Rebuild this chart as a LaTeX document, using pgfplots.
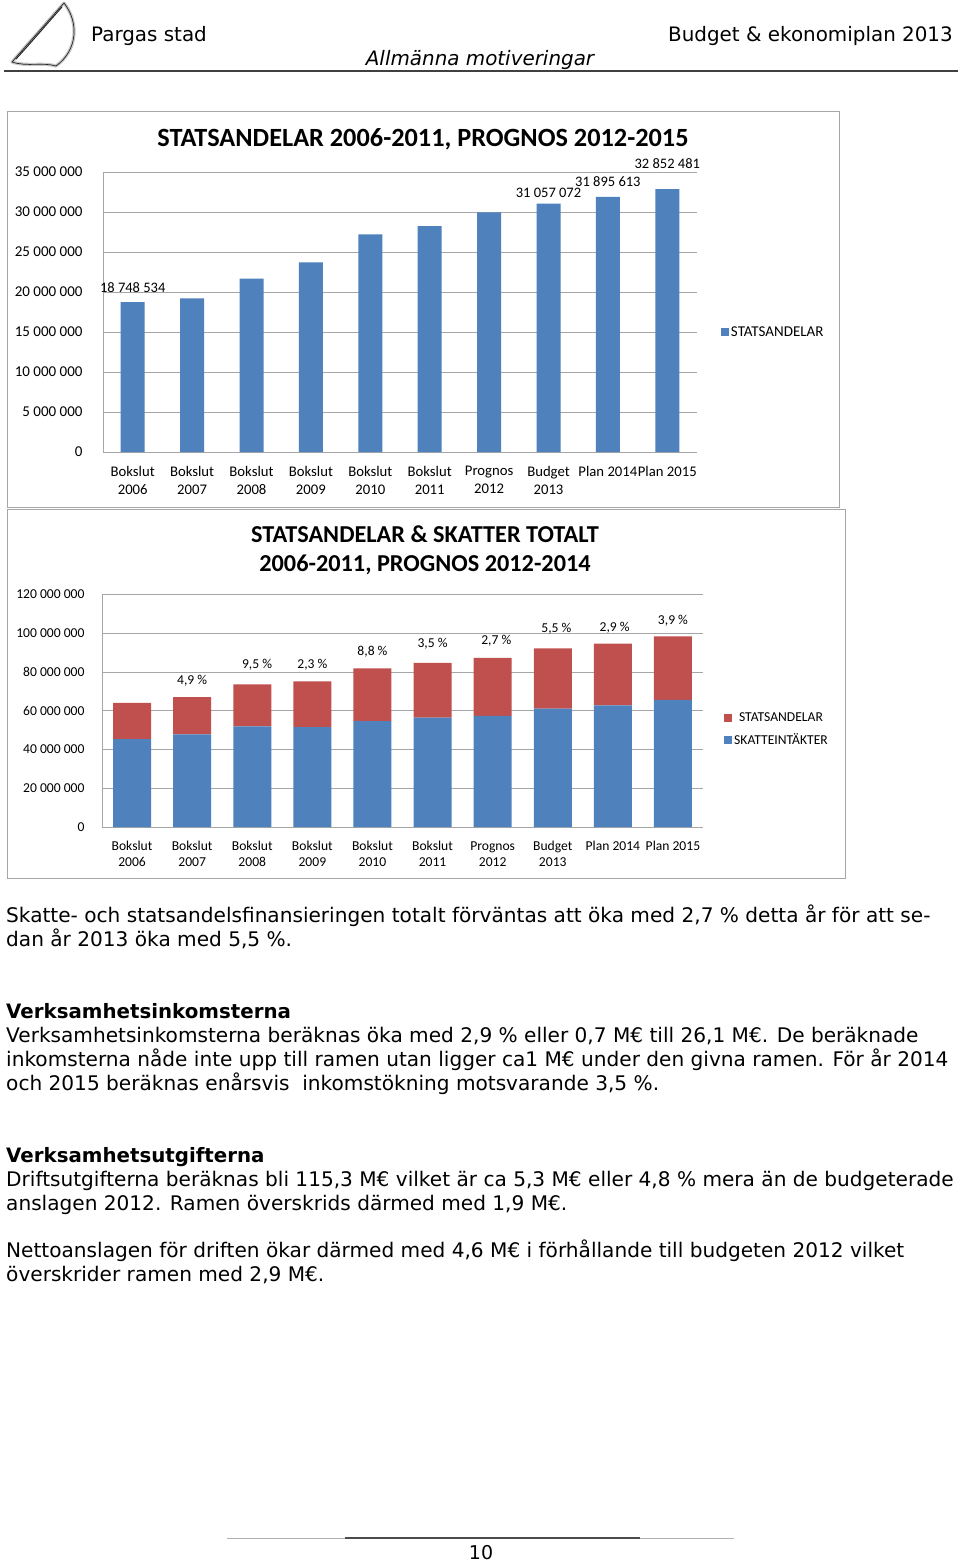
\documentclass[border=0pt]{standalone}
\usepackage{fontspec}
\setmainfont{DejaVu Sans}
\newfontfamily\calib{Carlito}
\usepackage{pgfplots}
\pgfplotsset{compat=1.18}
\definecolor{xblue}{HTML}{4F81BD}
\definecolor{xred}{HTML}{C0504D}
\definecolor{xgrid}{HTML}{A6A6A6}
\newcommand\fs[2]{\fontsize{#1}{#2}\selectfont}

\pgfplotstableread{
x y
0 18748534
1 19200000
2 21670000
3 23700000
4 27200000
5 28250000
6 29960000
7 31057072
8 31895613
9 32852481
}\statsandelar

\pgfplotstableread{
x y
0 45300000
1 47800000
2 52000000
3 51500000
4 54700000
5 56500000
6 57300000
7 61100000
8 62800000
9 65600000
}\skatter

\begin{document}
\begin{tikzpicture}
\path[use as bounding box, fill=white] (0pt,0pt) rectangle (960pt,-1564pt);
\begin{scope}[x=1pt,y=-1pt]
% logo
\draw[gray!45, line width=3.2pt, line join=round] (64,3) .. controls (79,22) and (78,50) .. (56,66) .. controls (43,62) and (27,67) .. (12,62) -- cycle;
\draw[black!85, line width=0.7pt, line join=round] (64,3) .. controls (79,22) and (78,50) .. (56,66) .. controls (43,62) and (27,67) .. (12,62) -- cycle;
\draw[black!85, line width=0.9pt] (62,7) .. controls (46,25) and (29,45) .. (16,59);
% header
\node[anchor=base west, inner sep=0pt, font=\fs{19.9}{22}] at (91,41) {Pargas stad};
\node[anchor=base east, inner sep=0pt, font=\fs{19.9}{22}] at (953,41) {Budget \& ekonomiplan 2013};
\node[anchor=base, inner sep=0pt, font=\itshape\fs{19.9}{22}] at (480,65) {Allmänna motiveringar};
\draw[black!75, line width=1.3pt] (4,71) -- (958,71);
% frames
\draw[xgrid, line width=0.9pt] (7,111) rectangle (839,507);
\draw[xgrid, line width=0.9pt] (7,509) rectangle (845,878);
% titles
\node[inner sep=0pt, font=\calib\bfseries\fs{26.3}{30}] at (423,139) {STATSANDELAR 2006-2011, PROGNOS 2012-2015};
\node[inner sep=0pt, align=center, font=\calib\bfseries\fs{24.3}{29}] at (425,550) {STATSANDELAR \& SKATTER TOTALT\\2006-2011, PROGNOS 2012-2014};
% body text
\begin{scope}[every node/.style={anchor=base west, inner sep=0pt, font=\fs{20.1}{24}}]
\node at (6,922) {Skatte- och statsandelsfinansieringen totalt förväntas att öka med 2,7 \% detta år för att se-};
\node at (6,946) {dan år 2013 öka med 5,5 \%.};
\node[font=\bfseries\fs{19.8}{24}] at (6,1018) {Verksamhetsinkomsterna};
\node at (6,1042) {Verksamhetsinkomsterna beräknas öka med 2,9 \% eller 0,7 M€ till 26,1 M€. De beräknade};
\node at (6,1066) {inkomsterna nåde inte upp till ramen utan ligger ca1 M€ under den givna ramen. För år 2014};
\node at (6,1090) {och 2015 beräknas enårsvis\ \ inkomstökning motsvarande 3,5 \%.};
\node[font=\bfseries\fs{19.8}{24}] at (6,1162) {Verksamhetsutgifterna};
\node at (6,1186) {Driftsutgifterna beräknas bli 115,3 M€ vilket är ca 5,3 M€ eller 4,8 \% mera än de budgeterade};
\node at (6,1210) {anslagen 2012. Ramen överskrids därmed med 1,9 M€.};
\node at (6,1257) {Nettoanslagen för driften ökar därmed med 4,6 M€ i förhållande till budgeten 2012 vilket};
\node at (6,1281) {överskrider ramen med 2,9 M€.};
\end{scope}
% footer
\draw[gray!60, line width=0.7pt] (227,1538) -- (734,1538);
\draw[black!70, line width=1.1pt] (345,1538) -- (640,1538);
\node[inner sep=0pt, font=\fs{19}{22}] at (481,1553) {10};
\end{scope}

% ---------- chart 1 ----------
\begin{axis}[
  at={(103pt,-452pt)}, anchor=south west, scale only axis,
  width=594pt, height=280pt,
  xmin=-0.5, xmax=9.5, ymin=0, ymax=35000000,
  scaled y ticks=false,
  ytick={0,5000000,10000000,15000000,20000000,25000000,30000000,35000000},
  yticklabels={0,5 000 000,10 000 000,15 000 000,20 000 000,25 000 000,30 000 000,35 000 000},
  xtick={0,...,9},
  xticklabels={{Bokslut\\2006},{Bokslut\\2007},{Bokslut\\2008},{Bokslut\\2009},{Bokslut\\2010},{Bokslut\\2011},{Prognos\\2012},{Budget\\2013},{Plan 2014},{Plan 2015}},
  ymajorgrids, grid style={xgrid, line width=0.8pt},
  axis x line*=bottom, axis y line*=left,
  axis line style={xgrid, line width=0.8pt},
  tick style={draw=none},
  yticklabel style={font=\calib\fs{15}{17}, xshift=-17pt},
  xticklabel style={font=\calib\fs{14.7}{18}, align=center, anchor=north, yshift=-11pt},
  clip=false,
  legend style={at={(1.035,0.428)}, anchor=west, draw=none, fill=none, font=\calib\fs{15}{17}},
  legend image code/.code={\fill[#1] (0pt,-4pt) rectangle (8pt,4pt);},
]
\addplot[ybar, bar width=24pt, bar shift=0pt, fill=xblue, draw=none] table[x=x,y=y] {\statsandelar};
\addlegendentry{STATSANDELAR}
\addplot[draw=none, mark=none, forget plot, nodes near coords, point meta=explicit symbolic,
  every node near coord/.append style={anchor=center, inner sep=0pt, font=\calib\fs{14.5}{17}}]
  table[col sep=semicolon, x=x, y=y, meta=lab] {
x;y;lab
0;20600000;18 748 534
7;32400000;31 057 072
8;33750000;31 895 613
9;36000000;32 852 481
};
\end{axis}

% ---------- chart 2 ----------
\begin{axis}[
  at={(102pt,-827pt)}, anchor=south west, scale only axis,
  width=601pt, height=232.5pt,
  ybar stacked, bar width=38pt,
  xmin=-0.5, xmax=9.5, ymin=0, ymax=120000000,
  scaled y ticks=false,
  ytick={0,20000000,40000000,60000000,80000000,100000000,120000000},
  yticklabels={0,20 000 000,40 000 000,60 000 000,80 000 000,100 000 000,120 000 000},
  xtick={0,...,9},
  xticklabels={{Bokslut\\2006},{Bokslut\\2007},{Bokslut\\2008},{Bokslut\\2009},{Bokslut\\2010},{Bokslut\\2011},{Prognos\\2012},{Budget\\2013},{Plan 2014},{Plan 2015}},
  ymajorgrids, grid style={xgrid, line width=0.8pt},
  axis x line*=bottom, axis y line*=left,
  axis line style={xgrid, line width=0.8pt},
  tick style={draw=none},
  yticklabel style={font=\calib\fs{13.6}{16}, xshift=-14pt},
  xticklabel style={font=\calib\fs{13.6}{16}, align=center, anchor=north, yshift=-11pt},
  clip=false,
  reverse legend,
  legend style={at={(1.030,0.42)}, anchor=west, draw=none, fill=none, font=\calib\fs{13.6}{16}, row sep=6pt},
  legend image code/.code={\fill[#1] (0pt,-4pt) rectangle (8pt,4pt);},
]
\addplot[fill=xblue, draw=none] table[x=x,y=y] {\skatter};
\addlegendentry{SKATTEINTÄKTER}
\addplot[fill=xred, draw=none] table[x=x,y=y] {\statsandelar};
\addlegendentry{STATSANDELAR}
\end{axis}

% ---------- chart 2 data labels (overlay with same geometry) ----------
\begin{axis}[
  at={(102pt,-827pt)}, anchor=south west, scale only axis,
  width=601pt, height=232.5pt,
  xmin=-0.5, xmax=9.5, ymin=0, ymax=120000000,
  hide axis, clip=false,
]
\addplot[draw=none, mark=none, nodes near coords, point meta=explicit symbolic,
  every node near coord/.append style={anchor=center, inner sep=0pt, font=\calib\fs{13.6}{16}}]
  table[col sep=semicolon, x=x, y=y, meta=lab] {
x;y;lab
1;75300000;4,9 \%
2.08;83500000;9,5 \%
3;84000000;2,3 \%
4;90700000;8,8 \%
5;94800000;3,5 \%
6.06;96400000;2,7 \%
7.06;102100000;5,5 \%
8.03;103100000;2,9 \%
9;106700000;3,9 \%
};
\end{axis}
\end{tikzpicture}
\end{document}
